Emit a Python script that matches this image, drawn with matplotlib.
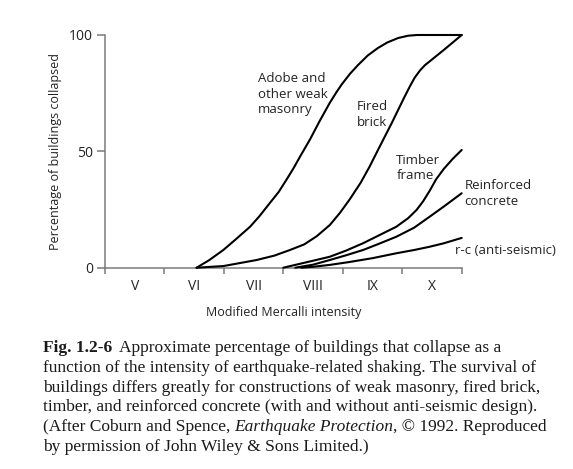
import matplotlib
matplotlib.use("Agg")
import matplotlib.pyplot as plt

# --- data ---
intensity_labels = ["V", "VI", "VII", "VIII", "IX", "X"]
label_pos = [5, 6, 7, 8, 9, 10]
tick_pos = [4.5, 5.5, 6.5, 7.5, 8.5, 9.5, 10.5]

adobe_x = [6.04, 6.25, 6.49, 6.7, 6.94, 7.1, 7.27, 7.42, 7.55, 7.67, 7.78, 7.95,
           8.11, 8.28, 8.39, 8.48, 8.62, 8.76, 8.92, 9.09, 9.25, 9.43, 9.6, 9.75, 10.5]
adobe_y = [0, 3.2, 7.6, 12.2, 17.6, 22.2, 27.7, 32.5, 37.7, 42.7, 47.7, 55.2,
           63.0, 70.8, 75.3, 78.7, 83.3, 87.2, 91.2, 94.4, 96.8, 98.7, 99.7, 100, 100]

brick_x = [6.04, 6.49, 7.05, 7.35, 7.61, 7.85, 8.06, 8.28, 8.45, 8.62, 8.8, 8.95,
           9.09, 9.2, 9.32, 9.45, 9.54, 9.63, 9.71, 9.8, 9.88, 10.05, 10.2, 10.35, 10.5]
brick_y = [0, 0.7, 3.3, 5.2, 7.6, 10.0, 13.5, 18.3, 23.5, 29.5, 36.5, 43.4,
           50.5, 56, 62, 68.8, 73.5, 78, 81.7, 84.8, 87, 90.5, 93.6, 96.8, 100]

timber_x = [7.5, 7.75, 8.0, 8.28, 8.55, 8.84, 9.1, 9.4, 9.6, 9.74, 9.85, 9.96,
            10.07, 10.2, 10.35, 10.5]
timber_y = [0, 1.5, 3.0, 4.7, 7.3, 10.5, 13.8, 17.6, 21.3, 24.8, 28.5, 33,
            38, 42.5, 46.8, 50.6]

rc_x = [7.7, 8.0, 8.28, 8.55, 8.84, 9.1, 9.4, 9.7, 9.96, 10.2, 10.5]
rc_y = [0, 1.3, 3.3, 5.3, 7.6, 10.2, 13.3, 17.2, 21.9, 26.3, 32]

rcas_x = [7.8, 8.0, 8.28, 8.6, 9.0, 9.4, 9.7, 9.96, 10.2, 10.5]
rcas_y = [0, 0.4, 1.2, 2.4, 4.1, 6.2, 7.6, 9.0, 10.5, 12.8]

W, H = 573, 469
SANS = "Open Sans"
SERIF = "Liberation Serif"
GREY = "#7a7a7a"
INK = "#222222"

fig = plt.figure(figsize=(W / 100, H / 100), dpi=100)
ax = fig.add_axes([105 / W, 1 - 267.7 / H, 356.7 / W, 232.7 / H])

for xs, ys in [(adobe_x, adobe_y), (brick_x, brick_y), (timber_x, timber_y),
               (rc_x, rc_y), (rcas_x, rcas_y)]:
    ax.plot(xs, ys, color="black", lw=1.5, clip_on=False, zorder=3,
            solid_capstyle="round", solid_joinstyle="round")

ax.set_xlim(4.5, 10.5)
ax.set_ylim(0, 100)
for s in ["top", "right"]:
    ax.spines[s].set_visible(False)
for s in ["left", "bottom"]:
    ax.spines[s].set_color(GREY)
    ax.spines[s].set_linewidth(1.1)
    ax.spines[s].set_zorder(2)

ax.set_yticks([0, 50, 100])
ax.set_yticklabels(["0", "50", "100"], fontfamily=SANS, fontsize=10)
ax.tick_params(axis="y", length=5.5, width=1.1, color=GREY, labelcolor=INK, pad=3)

ax.set_xticks(tick_pos)
ax.set_xticklabels([])
ax.set_xticks(label_pos, minor=True)
ax.set_xticklabels(intensity_labels, minor=True, fontfamily=SANS, fontsize=10)
ax.tick_params(axis="x", which="major", length=4.5, width=1.1, color=GREY)
ax.tick_params(axis="x", which="minor", length=0, pad=8, labelcolor=INK)

ax.set_xlabel("Modified Mercalli intensity", fontfamily=SANS, fontsize=9,
              color=INK, labelpad=9)
ax.set_ylabel("Percentage of buildings collapsed", fontfamily=SANS, fontsize=9,
              color=INK, labelpad=5)

lab = dict(fontfamily=SANS, fontsize=9.5, color=INK, linespacing=1.25,
           va="top", ha="left", clip_on=False)
ax.text(7.07, 84, "Adobe and\nother weak\nmasonry", **lab)
ax.text(8.74, 72, "Fired\nbrick", **lab)
ax.text(9.4, 49, "Timber\nframe", **lab)
ax.text(10.55, 38, "Reinforced\nconcrete", **lab)
ax.text(10.39, 7.6, "r-c (anti-seismic)", **dict(lab, va="center"))

# --- caption, drawn run by run so bold / italic parts sit inline ---
renderer = fig.canvas.get_renderer()


def draw_runs(x_px, base_px, runs):
    x = x_px
    for txt, weight, style, gap in runs:
        t = fig.text(x / W, 1 - base_px / H, txt, fontfamily=SERIF, fontsize=12.5,
                     fontweight=weight, fontstyle=style, va="baseline", ha="left",
                     color="#1a1a1a")
        x += t.get_window_extent(renderer).width + gap


cap_left = 43
bases = [352, 371.8, 391.6, 411.4, 431.2, 451]
draw_runs(cap_left, bases[0], [
    ("Fig. 1.2-6", "bold", "normal", 7),
    ("Approximate percentage of buildings that collapse as a", "normal", "normal", 0)])
draw_runs(cap_left, bases[1], [
    ("function of the intensity of earthquake-related shaking. The survival of",
     "normal", "normal", 0)])
draw_runs(cap_left, bases[2], [
    ("buildings differs greatly for constructions of weak masonry, fired brick,",
     "normal", "normal", 0)])
draw_runs(cap_left, bases[3], [
    ("timber, and reinforced concrete (with and without anti-seismic design).",
     "normal", "normal", 0)])
draw_runs(cap_left, bases[4], [
    ("(After Coburn and Spence,", "normal", "normal", 3.5),
    ("Earthquake Protection", "normal", "italic", 0),
    (", \u00a9 1992. Reproduced", "normal", "normal", 0)])
draw_runs(cap_left, bases[5], [
    ("by permission of John Wiley & Sons Limited.)", "normal", "normal", 0)])

fig.savefig("out.png", dpi=100)
